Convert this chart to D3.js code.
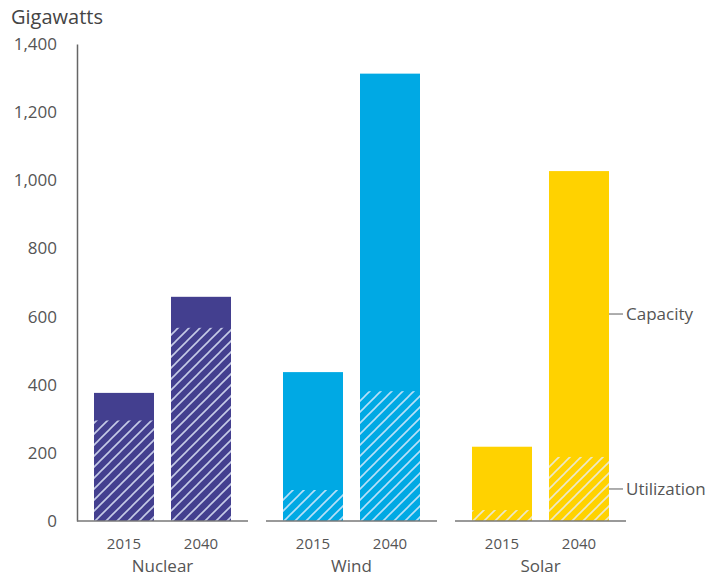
<!DOCTYPE html>
<html>
<head>
<meta charset="utf-8">
<script src="https://cdn.jsdelivr.net/npm/d3@7"></script>
<style>
  body { margin: 0; background: #fff; }
  text { font-family: "Open Sans", "Noto Sans", sans-serif; fill: #555; }
</style>
</head>
<body>
<div id="chart-area"></div>
<script>
// Capacity and utilization, gigawatts
var categories = ["Nuclear", "Wind", "Solar"];
var years = ["2015", "2040"];
var capacity = {
    Nuclear: [376, 658],
    Wind: [437, 1313],
    Solar: [218, 1027]
};
var utilization = {
    Nuclear: [295, 567],
    Wind: [91, 381],
    Solar: [32, 188]
};
var yTicks = [0, 200, 400, 600, 800, 1000, 1200, 1400];
var colors = { Nuclear: "#433f8f", Wind: "#00a9e4", Solar: "#ffd200" };

var width = 708, height = 577;

var svg = d3.select("#chart-area").append("svg")
    .attr("width", width)
    .attr("height", height);

// hatch for utilization
var pattern = svg.append("defs").append("pattern")
    .attr("id", "hatch")
    .attr("patternUnits", "userSpaceOnUse")
    .attr("width", 11)
    .attr("height", 11);
pattern.append("path")
    .attr("d", "M-2,2 L2,-2 M0,11 L11,0 M9,13 L13,9")
    .attr("stroke", "#e6eefc")
    .attr("stroke-opacity", 0.8)
    .attr("stroke-width", 1.6);

var y = d3.scaleLinear().domain([0, 1400]).range([521, 44]);
var x0 = d3.scaleBand().domain(categories).range([77, 626]).paddingInner(18 / 189);
var x1 = d3.scaleBand().domain(years).range([0, x0.bandwidth()])
    .paddingInner(0.2208).paddingOuter(0.2208);

// Y axis
var yAxis = svg.append("g")
    .attr("transform", "translate(77,0)")
    .call(d3.axisLeft(y).tickValues(yTicks).tickSize(0).tickPadding(20).tickFormat(d3.format(",")));
yAxis.select(".domain").attr("stroke", "#666").attr("stroke-width", 1.5);
yAxis.selectAll("text")
    .style("font-size", "17px")
    .style("font-family", "'Open Sans', sans-serif")
    .attr("fill", "#555");

svg.append("text")
    .attr("x", 11)
    .attr("y", 24)
    .attr("font-size", "20px")
    .style("fill", "#444")
    .text("Gigawatts");

var groups = svg.selectAll(".group")
    .data(categories)
    .enter().append("g")
    .attr("class", "group")
    .attr("transform", (d) => "translate(" + x0(d) + ",0)");

groups.each(function(cat) {
    var g = d3.select(this);
    var rows = years.map((yr, i) => ({
        year: yr,
        cap: capacity[cat][i],
        util: utilization[cat][i]
    }));

    g.selectAll(".cap")
        .data(rows)
        .enter().append("rect")
        .attr("class", "cap")
        .attr("x", (d) => x1(d.year))
        .attr("width", x1.bandwidth())
        .attr("y", (d) => y(d.cap))
        .attr("height", (d) => y(0) - y(d.cap))
        .attr("fill", colors[cat]);

    g.selectAll(".util")
        .data(rows)
        .enter().append("rect")
        .attr("class", "util")
        .attr("x", (d) => x1(d.year))
        .attr("width", x1.bandwidth())
        .attr("y", (d) => y(d.util))
        .attr("height", (d) => y(0) - y(d.util))
        .attr("fill", "url(#hatch)");

    // baseline
    g.append("line")
        .attr("x1", 0)
        .attr("x2", x0.bandwidth())
        .attr("y1", y(0))
        .attr("y2", y(0))
        .attr("stroke", "#777")
        .attr("stroke-width", 1.5);

    g.selectAll(".year")
        .data(years)
        .enter().append("text")
        .attr("class", "year")
        .attr("x", (d) => x1(d) + x1.bandwidth() / 2)
        .attr("y", 549)
        .attr("text-anchor", "middle")
        .attr("font-size", "15px")
        .text((d) => d);

    g.append("text")
        .attr("x", x0.bandwidth() / 2)
        .attr("y", 572)
        .attr("text-anchor", "middle")
        .attr("font-size", "17px")
        .text(cat);
});

// labels on the last bar
var lastCat = categories[categories.length - 1];
var lastIdx = years.length - 1;
var barRight = x0(lastCat) + x1(years[lastIdx]) + x1.bandwidth();
var capV = capacity[lastCat][lastIdx], utilV = utilization[lastCat][lastIdx];
var legend = [
    { name: "Capacity", v: (capV + utilV) / 2 },
    { name: "Utilization", v: utilV / 2 }
];
legend.forEach((d) => {
    svg.append("line")
        .attr("x1", barRight)
        .attr("x2", barRight + 14)
        .attr("y1", y(d.v))
        .attr("y2", y(d.v))
        .attr("stroke", "#777")
        .attr("stroke-width", 1.2);
    svg.append("text")
        .attr("x", barRight + 17)
        .attr("y", y(d.v))
        .attr("dy", "0.35em")
        .attr("font-size", "17px")
        .text(d.name);
});
</script>
</body>
</html>
